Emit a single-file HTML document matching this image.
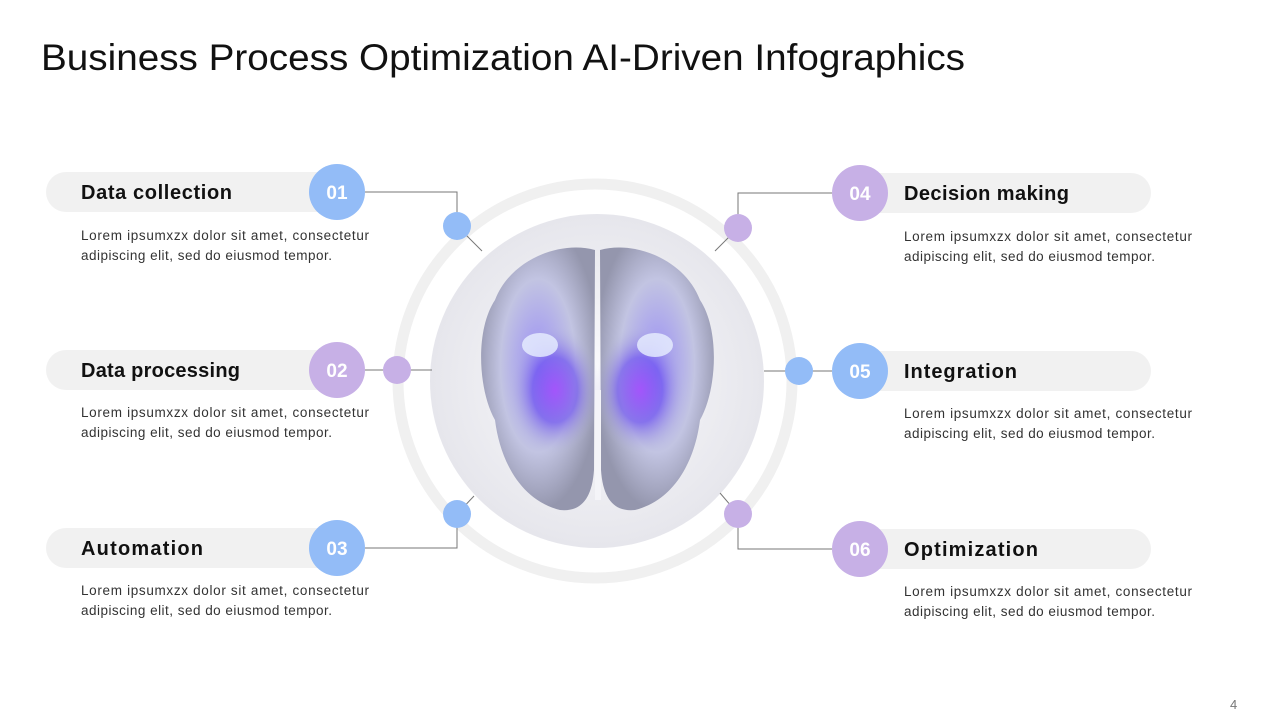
<!DOCTYPE html>
<html><head><meta charset="utf-8"><style>
body{margin:0;width:1280px;height:720px;background:#fff;overflow:hidden;font-family:"Liberation Sans",sans-serif}
</style></head><body>
<svg width="1280" height="720" viewBox="0 0 1280 720" xmlns="http://www.w3.org/2000/svg" font-family="Liberation Sans, sans-serif">
<defs>
<radialGradient id="bg" cx="50%" cy="50%" r="50%"><stop offset="0" stop-color="#fbfbfd"/><stop offset="1" stop-color="#e6e6ec"/></radialGradient>
<radialGradient id="glow" cx="50%" cy="50%" r="50%"><stop offset="0" stop-color="#a040ff"/><stop offset=".5" stop-color="#6a4cf0" stop-opacity=".8"/><stop offset="1" stop-color="#b8bcd8" stop-opacity="0"/></radialGradient>
<radialGradient id="lobe" cx="50%" cy="45%" r="55%"><stop offset="0" stop-color="#9a8ef5"/><stop offset=".6" stop-color="#c2c4e2"/><stop offset="1" stop-color="#9496ad"/></radialGradient>
</defs>
<text x="41" y="70" font-size="37" fill="#111" textLength="924" lengthAdjust="spacingAndGlyphs">Business Process Optimization AI-Driven Infographics</text>
<circle cx="595" cy="381" r="197" fill="none" stroke="#f0f0f0" stroke-width="11"/>
<circle cx="597" cy="381" r="167" fill="url(#bg)"/>
<g>
<path d="M595 250 C560 240 510 260 495 300 C475 330 478 390 495 420 C500 460 520 500 560 510 C580 512 592 500 594 470 Z" fill="url(#lobe)"/>
<path d="M600 250 C635 240 685 260 700 300 C720 330 717 390 700 420 C695 460 675 500 635 510 C615 512 603 500 601 470 Z" fill="url(#lobe)"/>
<ellipse cx="555" cy="390" rx="45" ry="65" fill="url(#glow)" opacity=".8"/>
<ellipse cx="640" cy="390" rx="45" ry="65" fill="url(#glow)" opacity=".8"/>
<ellipse cx="540" cy="345" rx="18" ry="12" fill="#e8f0ff" opacity=".8"/>
<ellipse cx="655" cy="345" rx="18" ry="12" fill="#e8f0ff" opacity=".8"/>
<rect x="595" y="390" width="6" height="110" fill="#f4f4f8"/>
</g>
<g stroke="#777" stroke-width="1" fill="none">
<polyline points="365,192 457,192 457,226"/><line x1="457" y1="226" x2="482" y2="251"/>
<line x1="365" y1="370" x2="432" y2="370"/>
<polyline points="365,548 457,548 457,514"/><line x1="457" y1="514" x2="474" y2="496"/>
<polyline points="832,193 738,193 738,228"/><line x1="738" y1="228" x2="715" y2="251"/>
<line x1="764" y1="371" x2="832" y2="371"/>
<polyline points="832,549 738,549 738,514"/><line x1="738" y1="514" x2="720" y2="493"/>
</g>
<g fill="#f1f1f1">
<rect x="46" y="172" width="300" height="40" rx="20"/>
<rect x="46" y="350" width="300" height="40" rx="20"/>
<rect x="46" y="528" width="300" height="40" rx="20"/>
<rect x="852" y="173" width="299" height="40" rx="20"/>
<rect x="852" y="351" width="299" height="40" rx="20"/>
<rect x="852" y="529" width="299" height="40" rx="20"/>
</g>
<g>
<circle cx="457" cy="226" r="14" fill="#93bcf7"/><circle cx="397" cy="370" r="14" fill="#c7b0e6"/><circle cx="457" cy="514" r="14" fill="#93bcf7"/>
<circle cx="738" cy="228" r="14" fill="#c7b0e6"/><circle cx="799" cy="371" r="14" fill="#93bcf7"/><circle cx="738" cy="514" r="14" fill="#c7b0e6"/>
<circle cx="337" cy="192" r="28" fill="#93bcf7"/><circle cx="337" cy="370" r="28" fill="#c7b0e6"/><circle cx="337" cy="548" r="28" fill="#93bcf7"/>
<circle cx="860" cy="193" r="28" fill="#c7b0e6"/><circle cx="860" cy="371" r="28" fill="#93bcf7"/><circle cx="860" cy="549" r="28" fill="#c7b0e6"/>
</g>
<g fill="#fff" font-size="19" font-weight="bold" text-anchor="middle">
<text x="337" y="199">01</text><text x="337" y="377">02</text><text x="337" y="555">03</text>
<text x="860" y="200">04</text><text x="860" y="378">05</text><text x="860" y="556">06</text>
</g>
<g fill="#111" font-size="20" font-weight="bold" lengthAdjust="spacingAndGlyphs">
<text x="81" y="199" textLength="151">Data collection</text><text x="81" y="377" textLength="159">Data processing</text><text x="81" y="555" textLength="122">Automation</text>
<text x="904" y="200" textLength="165">Decision making</text><text x="904" y="378" textLength="113">Integration</text><text x="904" y="556" textLength="134">Optimization</text>
</g>
<g fill="#333" font-size="13.5">
<text x="81" y="240" textLength="288">Lorem ipsumxzx dolor sit amet, consectetur</text><text x="81" y="260" textLength="251">adipiscing elit, sed do eiusmod tempor.</text>
<text x="81" y="417" textLength="288">Lorem ipsumxzx dolor sit amet, consectetur</text><text x="81" y="437" textLength="251">adipiscing elit, sed do eiusmod tempor.</text>
<text x="81" y="595" textLength="288">Lorem ipsumxzx dolor sit amet, consectetur</text><text x="81" y="615" textLength="251">adipiscing elit, sed do eiusmod tempor.</text>
<text x="904" y="241" textLength="288">Lorem ipsumxzx dolor sit amet, consectetur</text><text x="904" y="261" textLength="251">adipiscing elit, sed do eiusmod tempor.</text>
<text x="904" y="418" textLength="288">Lorem ipsumxzx dolor sit amet, consectetur</text><text x="904" y="438" textLength="251">adipiscing elit, sed do eiusmod tempor.</text>
<text x="904" y="596" textLength="288">Lorem ipsumxzx dolor sit amet, consectetur</text><text x="904" y="616" textLength="251">adipiscing elit, sed do eiusmod tempor.</text>
</g>
<text x="1230" y="709" font-size="13" fill="#777">4</text>
</svg>
</body></html>
